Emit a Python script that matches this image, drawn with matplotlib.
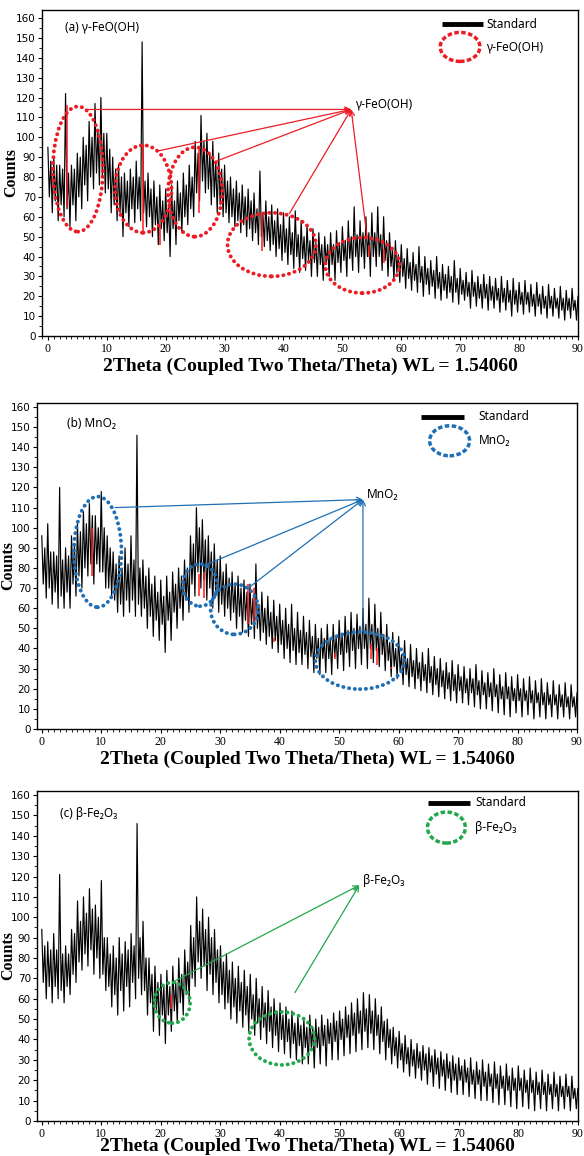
import numpy as np
import matplotlib
matplotlib.use('Agg')
import matplotlib.pyplot as plt
from matplotlib.patches import Ellipse
from matplotlib.ticker import MultipleLocator

# XRD counts, every 0.25 deg 2theta from 0 to 90
step = 0.25
counts_a = [
    95, 70, 88, 62, 90, 68, 86, 58, 86, 66, 84, 60, 122, 64, 82, 55, 86, 66, 84, 58,
    92, 70, 90, 64, 100, 76, 96, 68, 108, 80, 100, 74, 117, 82, 104, 76, 120, 80, 102, 72,
    102, 74, 94, 62, 90, 66, 84, 58, 86, 62, 80, 50, 82, 62, 78, 55, 84, 64, 80, 57,
    88, 64, 80, 58, 148, 62, 78, 55, 82, 60, 74, 50, 78, 56, 70, 46, 76, 54, 68, 48,
    74, 52, 66, 40, 76, 54, 68, 46, 78, 58, 72, 52, 82, 60, 76, 56, 86, 64, 80, 60,
    98, 72, 92, 68, 111, 78, 98, 72, 102, 74, 92, 66, 98, 70, 88, 62, 92, 66, 84, 60,
    86, 62, 78, 57, 80, 60, 74, 55, 78, 58, 72, 52, 76, 56, 70, 50, 74, 54, 68, 48,
    72, 52, 64, 46, 83, 50, 62, 45, 68, 48, 60, 43, 66, 46, 58, 40, 64, 44, 56, 38,
    62, 42, 54, 36, 60, 41, 52, 34, 63, 40, 51, 32, 58, 39, 50, 33, 56, 38, 48, 30,
    54, 37, 47, 30, 52, 36, 46, 28, 50, 36, 46, 30, 52, 36, 46, 28, 53, 37, 47, 32,
    55, 38, 48, 30, 58, 39, 50, 33, 65, 40, 51, 32, 58, 40, 52, 34, 60, 40, 52, 30,
    62, 40, 52, 35, 65, 40, 51, 33, 60, 38, 48, 30, 52, 35, 44, 28, 48, 32, 41, 27,
    46, 30, 39, 24, 44, 29, 37, 23, 42, 28, 36, 22, 45, 27, 35, 20, 40, 26, 34, 21,
    38, 25, 33, 19, 40, 24, 32, 18, 36, 23, 31, 19, 35, 22, 30, 17, 38, 22, 29, 16,
    34, 21, 28, 18, 32, 20, 27, 14, 33, 20, 27, 15, 30, 19, 26, 14, 31, 19, 26, 13,
    30, 18, 25, 14, 29, 18, 24, 12, 30, 17, 24, 13, 28, 17, 23, 10, 29, 16, 23, 12,
    27, 16, 22, 11, 28, 16, 22, 12, 26, 15, 21, 10, 27, 15, 21, 11, 25, 14, 20, 9,
    26, 14, 20, 10, 24, 14, 19, 9, 25, 13, 19, 8, 23, 13, 19, 9, 24, 13, 18, 8,
    20]
counts_b = [
    96, 72, 90, 65, 102, 70, 88, 62, 88, 68, 86, 60, 120, 66, 84, 60, 90, 68, 86, 60,
    96, 72, 92, 66, 102, 76, 98, 70, 108, 80, 102, 76, 112, 82, 106, 72, 106, 82, 100, 78,
    118, 78, 100, 70, 96, 70, 90, 66, 88, 64, 82, 58, 86, 62, 80, 56, 90, 64, 82, 58,
    96, 64, 84, 56, 146, 62, 80, 56, 84, 60, 76, 50, 80, 56, 72, 46, 76, 54, 68, 44,
    74, 52, 66, 38, 76, 54, 68, 44, 78, 58, 72, 50, 80, 60, 76, 54, 84, 64, 80, 58,
    96, 72, 92, 66, 110, 78, 100, 70, 104, 74, 94, 64, 96, 70, 88, 60, 92, 66, 84, 58,
    86, 62, 78, 56, 82, 60, 75, 54, 78, 58, 72, 50, 76, 56, 70, 48, 74, 54, 68, 46,
    72, 52, 65, 45, 82, 50, 62, 44, 68, 48, 60, 42, 66, 46, 58, 40, 64, 44, 56, 38,
    62, 42, 54, 35, 60, 40, 52, 33, 62, 39, 50, 32, 58, 38, 49, 32, 56, 37, 48, 30,
    54, 36, 46, 28, 52, 35, 45, 27, 50, 35, 45, 28, 52, 35, 45, 27, 52, 36, 46, 30,
    54, 37, 47, 29, 56, 38, 49, 31, 58, 39, 50, 30, 57, 40, 51, 32, 60, 40, 52, 30,
    65, 40, 52, 33, 62, 39, 50, 31, 58, 37, 47, 29, 52, 34, 43, 26, 48, 31, 40, 25,
    46, 29, 37, 22, 44, 27, 35, 21, 42, 26, 34, 20, 40, 25, 33, 19, 38, 24, 32, 18,
    40, 23, 31, 17, 36, 22, 30, 16, 35, 21, 29, 15, 33, 20, 28, 14, 34, 19, 27, 13,
    32, 19, 26, 13, 31, 18, 25, 12, 30, 18, 25, 11, 32, 17, 24, 10, 29, 17, 23, 10,
    28, 16, 23, 9, 30, 16, 22, 8, 27, 15, 21, 7, 28, 15, 21, 6, 26, 14, 20, 8,
    27, 14, 20, 6, 25, 14, 19, 7, 26, 13, 19, 5, 24, 13, 18, 6, 25, 12, 18, 5,
    23, 12, 17, 6, 24, 12, 17, 5, 22, 11, 17, 6, 23, 11, 16, 5, 22, 11, 16, 6,
    18]
counts_c = [
    94, 68, 86, 60, 88, 66, 84, 58, 92, 66, 84, 60, 121, 64, 82, 58, 86, 66, 82, 62,
    94, 72, 92, 68, 108, 78, 98, 74, 110, 82, 102, 76, 114, 84, 104, 72, 106, 80, 100, 70,
    118, 72, 90, 64, 90, 66, 82, 56, 86, 62, 80, 52, 90, 64, 82, 54, 88, 66, 84, 56,
    92, 68, 86, 60, 146, 70, 90, 62, 98, 64, 80, 52, 80, 58, 72, 44, 76, 54, 68, 42,
    72, 52, 66, 38, 74, 52, 66, 44, 76, 54, 68, 48, 80, 58, 72, 52, 84, 62, 78, 58,
    96, 70, 90, 66, 110, 78, 98, 70, 104, 76, 94, 64, 100, 72, 90, 62, 94, 68, 84, 58,
    86, 62, 78, 55, 82, 58, 74, 50, 78, 56, 70, 48, 76, 54, 68, 46, 74, 52, 66, 44,
    72, 50, 62, 42, 70, 48, 60, 40, 66, 46, 58, 38, 64, 44, 56, 36, 60, 42, 54, 34,
    58, 40, 52, 33, 56, 39, 50, 31, 54, 38, 48, 30, 52, 37, 47, 28, 50, 36, 46, 28,
    52, 36, 46, 26, 50, 36, 46, 28, 52, 37, 47, 27, 50, 38, 48, 30, 53, 39, 49, 30,
    54, 40, 50, 32, 56, 41, 52, 33, 58, 42, 53, 34, 60, 43, 54, 35, 63, 44, 55, 36,
    62, 43, 54, 35, 60, 42, 52, 33, 56, 39, 49, 30, 50, 36, 45, 28, 46, 32, 41, 26,
    44, 30, 38, 24, 42, 28, 36, 22, 40, 27, 35, 21, 38, 26, 34, 20, 37, 25, 33, 18,
    36, 24, 32, 17, 35, 23, 31, 16, 34, 22, 30, 15, 33, 21, 29, 14, 32, 20, 28, 13,
    31, 20, 27, 13, 30, 19, 26, 12, 31, 18, 25, 11, 29, 18, 25, 10, 30, 17, 24, 10,
    28, 17, 23, 9, 29, 16, 23, 8, 27, 16, 22, 8, 28, 15, 22, 7, 26, 15, 21, 6,
    27, 15, 21, 7, 25, 14, 20, 6, 26, 14, 20, 5, 24, 13, 19, 6, 25, 13, 19, 5,
    23, 13, 18, 6, 24, 12, 18, 5, 22, 12, 17, 6, 23, 12, 17, 5, 22, 11, 16, 6,
    16]

# red standard sticks: position, bottom, top
sticks_a = ([3.2, 16.1, 19.0, 25.6, 36.3, 54.6, 57.0],
            [65, 53, 46, 62, 43, 40, 37],
            [116, 96, 56, 95, 62, 46, 44])
sticks_b = ([8.5, 26.4, 27.3, 34.7, 35.7, 39.0, 49.3, 55.4, 56.4, 58.7],
            [76, 66, 65, 52, 53, 43, 35, 35, 32, 30],
            [100, 77, 78, 72, 70, 45, 38, 42, 40, 31])
sticks_c = ([21.7], [55], [62])

# marked regions: centre x, centre y, width, height
regions_a = [(5.1, 84, 8.5, 63), (16.2, 74, 9.6, 44), (25.0, 72.5, 9.2, 45),
             (38.0, 46, 15, 32), (53.4, 35.6, 12.6, 28)]
regions_b = [(9.4, 88, 8, 55), (26.6, 71.5, 5.8, 21), (32.4, 59.5, 8, 25),
             (53.5, 34, 15, 28.4)]
regions_c = [(21.9, 58, 6, 20), (40.3, 40.5, 11, 26)]

# arrow start points and common tip
starts_a = [(6.8, 114), (18.5, 93), (28.6, 88), (41.0, 61.6), (54.2, 49.5)]
tip_a = (51.5, 114)
starts_b = [(12.3, 110), (27.1, 81), (34.7, 70), (54.0, 48.3)]
tip_b = (54.0, 114)
starts_c = [(22.2, 68.5), (42.5, 63)]
tip_c = (53.3, 115.7)

names = ['γ-FeO(OH)', 'MnO₂', 'β-Fe₂O₃']
titles = ['(a) γ-FeO(OH)', '(b) MnO₂', '(c) β-Fe₂O₃']
colors = ['#ed1c24', '#1f6fb6', '#22a84c']

sans = ['Noto Sans', 'DejaVu Sans']
narrow = ['Liberation Sans Narrow', 'DejaVu Sans']
serif = ['Liberation Serif', 'DejaVu Serif']

fig = plt.figure(figsize=(5.84, 11.56), dpi=100)

panels = [
    dict(rect=[0.0719, 0.7093, 0.9178, 0.2820], xlim=(-1, 90), ylim=(0, 164),
         counts=counts_a, sticks=sticks_a, regions=regions_a, starts=starts_a, tip=tip_a,
         title_xy=(0.043, 0.948), leg_x=(0.746, 0.823), leg_y=(0.957, 0.887),
         leg_e=(0.780, 0.074, 0.089), leg_tx=0.829, ylab_x=-0.043, xpad=2),
    dict(rect=[0.0634, 0.3694, 0.9247, 0.2820], xlim=(-0.8, 90), ylim=(0, 162),
         counts=counts_b, sticks=sticks_b, regions=regions_b, starts=starts_b, tip=tip_b,
         title_xy=(0.055, 0.936), leg_x=(0.711, 0.791), leg_y=(0.957, 0.884),
         leg_e=(0.764, 0.074, 0.092), leg_tx=0.818, ylab_x=-0.039, xpad=2),
    dict(rect=[0.0634, 0.0303, 0.9260, 0.2855], xlim=(-0.8, 90), ylim=(0, 162),
         counts=counts_c, sticks=sticks_c, regions=regions_c, starts=starts_c, tip=tip_c,
         title_xy=(0.043, 0.933), leg_x=(0.723, 0.800), leg_y=(0.964, 0.889),
         leg_e=(0.757, 0.070, 0.094), leg_tx=0.81, ylab_x=-0.039, xpad=-1.5),
]

for i, p in enumerate(panels):
    ax = fig.add_axes(p['rect'])
    col = colors[i]

    y = np.array(p['counts'])
    x = np.arange(len(y)) * step
    ax.plot(x, y, color='black', lw=0.85)

    pos, s_lo, s_hi = p['sticks']
    ax.vlines(pos, s_lo, s_hi, color='#ff1a1a', lw=1.1, zorder=3)

    for cx, cy, w, h in p['regions']:
        ax.add_patch(Ellipse((cx, cy), w, h, fill=False, ec=col, lw=2.8,
                             ls=(0, (0.05, 1.45)), capstyle='round', zorder=4))
    for s in p['starts']:
        ax.annotate('', xy=p['tip'], xytext=s,
                    arrowprops=dict(arrowstyle='->', color=col, lw=0.9,
                                    shrinkA=0, shrinkB=0, mutation_scale=9),
                    zorder=5)
    ax.text(p['tip'][0] + 0.6, p['tip'][1] + 2.5, names[i], fontsize=8.5,
            family=sans, ha='left', va='center')

    # title and key
    ax.text(*p['title_xy'], titles[i], transform=ax.transAxes, fontsize=8.5,
            family=sans, ha='left', va='center')
    ax.plot(p['leg_x'], [p['leg_y'][0]] * 2, color='black', lw=3.5,
            transform=ax.transAxes, solid_capstyle='butt')
    ax.text(p['leg_tx'], p['leg_y'][0], 'Standard', transform=ax.transAxes,
            fontsize=8.5, family=sans, ha='left', va='center')
    ex, ew, eh = p['leg_e']
    ax.add_patch(Ellipse((ex, p['leg_y'][1]), ew, eh, transform=ax.transAxes,
                         fill=False, ec=col, lw=2.5, ls=(0, (1.3, 0.7))))
    ax.text(p['leg_tx'], p['leg_y'][1], names[i], transform=ax.transAxes,
            fontsize=8.5, family=sans, ha='left', va='center')

    ax.set_xlim(*p['xlim'])
    ax.set_ylim(*p['ylim'])
    ax.xaxis.set_major_locator(MultipleLocator(10))
    ax.xaxis.set_minor_locator(MultipleLocator(1))
    ax.yaxis.set_major_locator(MultipleLocator(10))
    ax.yaxis.set_minor_locator(MultipleLocator(5))
    ax.tick_params(axis='x', which='major', direction='out', length=3, width=0.8, pad=2)
    ax.tick_params(axis='x', which='minor', direction='out', length=2, width=0.6)
    ax.tick_params(axis='y', which='major', direction='out', length=3, width=0.8, pad=1.5)
    ax.tick_params(axis='y', which='minor', direction='out', length=2, width=0.6)
    for lab in ax.get_xticklabels():
        lab.set_family(serif)
        lab.set_fontsize(8.5)
    for lab in ax.get_yticklabels():
        lab.set_family(narrow)
        lab.set_fontsize(7.5)
    for sp in ax.spines.values():
        sp.set_linewidth(1.0)

    ax.set_ylabel('Counts', family=serif, fontsize=11.5, fontweight='bold')
    ax.yaxis.set_label_coords(p['ylab_x'], 0.5)
    ax.set_xlabel('2Theta (Coupled Two Theta/Theta) WL = 1.54060', family=serif,
                  fontsize=14, fontweight='bold', labelpad=p['xpad'])

fig.savefig('out.png', dpi=100)
